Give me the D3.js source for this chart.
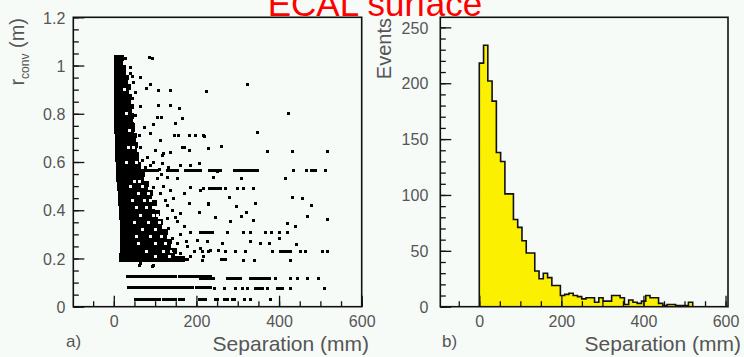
<!DOCTYPE html>
<meta charset="utf-8">
<script src="https://d3js.org/d3.v7.min.js"></script>
<style>
  body { margin: 0; background: #f7fbf8; }
  text { font-family: "Liberation Sans", Arial, sans-serif; }
</style>
<svg id="chart" width="744" height="357"></svg>
<script>
// ---- panel a) : r_conv vs separation ----
// dense core, one row per 0.02 m: [r, sepFrom, sepTo]
var coreRows = [
  [1.03, 0, 24], [1.01, 0, 22], [0.99, 0, 30], [0.97, 0, 29], [0.95, 0, 36],
  [0.93, 0, 34], [0.91, 0, 42], [0.89, 0, 38], [0.87, 0, 44], [0.85, 0, 42],
  [0.83, 0, 48], [0.81, 0, 44], [0.79, 0, 50], [0.77, 0, 47], [0.75, 0, 52],
  [0.73, 0, 50], [0.71, 2, 55], [0.69, 2, 54], [0.67, 3, 59], [0.65, 3, 57],
  [0.63, 4, 62], [0.61, 4, 60], [0.59, 5, 67], [0.57, 5, 66], [0.55, 6, 76],
  [0.53, 6, 74], [0.51, 8, 86], [0.49, 8, 84], [0.47, 9, 95], [0.45, 10, 92],
  [0.43, 10, 104], [0.41, 12, 100], [0.39, 12, 112], [0.37, 13, 108], [0.35, 14, 120],
  [0.33, 14, 116], [0.31, 15, 132], [0.29, 15, 128], [0.27, 16, 142], [0.25, 15, 138],
  [0.23, 14, 152], [0.21, 13, 148], [0.197, 12, 172]
];

// empty spots inside the core [sep, r]
var coreGaps = [
  [25, 0.9], [30, 0.8], [38, 0.73], [35, 0.66], [48, 0.66], [30, 0.6], [55, 0.6],
  [50, 0.52], [62, 0.52], [40, 0.5], [70, 0.5], [60, 0.47], [85, 0.47],
  [45, 0.44], [75, 0.44], [88, 0.44], [55, 0.41], [80, 0.41], [95, 0.41],
  [65, 0.38], [95, 0.38], [105, 0.38], [50, 0.35], [85, 0.35], [110, 0.35],
  [70, 0.32], [100, 0.32], [55, 0.29], [90, 0.29], [115, 0.29],
  [60, 0.26], [100, 0.26], [125, 0.26], [80, 0.23], [120, 0.23], [140, 0.23],
  [100, 0.21], [135, 0.21]
];

// horizontal streaks of points [r, sepFrom, sepTo]
var streaks = [
  [0.566, 40, 106], [0.566, 130, 154], [0.566, 174, 210], [0.566, 230, 259],
  [0.566, 292, 349], [0.566, 477, 489],
  [0.195, 60, 178], [0.195, 259, 271],
  [0.124, 32, 58], [0.124, 64, 112], [0.124, 118, 150], [0.124, 158, 200],
  [0.124, 208, 234], [0.119, 275, 307], [0.119, 331, 372], [0.117, 210, 243],
  [0.079, 36, 190], [0.079, 200, 234], [0.077, 343, 360], [0.077, 395, 408],
  [0.03, 53, 75], [0.03, 82, 110], [0.03, 120, 150], [0.03, 158, 170],
  [0.228, 404, 428], [0.307, 215, 240], [0.49, 230, 259]
];

// single points [sep (mm), r (m)]
var dots = [
  [85, 1.034], [93, 1.03], [45, 0.955], [65, 0.952], [89, 0.92], [79, 0.904],
  [109, 0.897], [136, 0.897], [225, 0.894], [323, 0.92], [422, 0.80],
  [107, 0.835], [136, 0.835], [159, 0.821], [105, 0.786], [115, 0.786], [167, 0.779],
  [97, 0.756], [150, 0.759], [73, 0.745], [89, 0.717], [113, 0.69], [348, 0.722], [219, 0.706],
  [147, 0.71], [156, 0.71], [182, 0.71], [198, 0.712], [217, 0.71],
  [166, 0.662], [170, 0.66], [230, 0.655], [261, 0.664], [184, 0.648], [372, 0.646],
  [432, 0.646], [518, 0.644],
  [101, 0.648], [121, 0.635], [81, 0.62], [117, 0.628], [137, 0.641], [57, 0.579],
  [133, 0.579], [162, 0.586], [206, 0.593], [89, 0.586], [117, 0.593], [186, 0.586],
  [435, 0.566], [465, 0.566], [513, 0.566],
  [250, 0.559], [242, 0.535], [309, 0.531], [416, 0.530],
  [105, 0.531], [129, 0.538], [154, 0.531], [186, 0.496], [170, 0.469], [137, 0.483],
  [113, 0.469], [210, 0.483],
  [218, 0.49], [271, 0.49], [299, 0.49], [314, 0.49], [338, 0.49],
  [280, 0.455], [230, 0.424], [342, 0.43], [432, 0.453], [457, 0.448], [478, 0.418],
  [297, 0.414], [230, 0.428], [206, 0.393], [182, 0.428], [141, 0.40], [162, 0.386],
  [125, 0.441], [97, 0.428], [97, 0.496],
  [247, 0.372], [309, 0.375], [322, 0.389], [338, 0.356], [283, 0.352], [469, 0.375],
  [517, 0.364], [420, 0.345], [440, 0.335],
  [129, 0.366], [154, 0.352], [170, 0.331], [186, 0.31], [210, 0.31], [133, 0.324],
  [275, 0.307], [314, 0.307], [331, 0.307], [368, 0.307], [382, 0.307], [400, 0.307], [419, 0.307],
  [202, 0.276], [154, 0.262], [178, 0.248], [226, 0.269], [141, 0.283], [263, 0.262],
  [331, 0.269], [376, 0.262], [354, 0.262], [400, 0.283], [443, 0.259],
  [194, 0.228], [162, 0.221], [218, 0.207], [210, 0.242], [234, 0.235], [254, 0.235],
  [214, 0.228], [230, 0.228], [271, 0.228], [295, 0.228], [319, 0.228], [384, 0.228],
  [452, 0.228], [464, 0.228], [505, 0.228], [516, 0.228],
  [214, 0.193], [314, 0.193], [341, 0.193], [428, 0.193],
  [65, 0.18], [93, 0.166], [61, 0.171], [97, 0.171],
  [376, 0.117], [392, 0.117], [428, 0.117], [445, 0.117], [469, 0.117], [496, 0.117],
  [243, 0.076], [267, 0.076], [295, 0.076], [311, 0.076], [323, 0.076], [372, 0.076],
  [428, 0.076], [509, 0.076],
  [206, 0.031], [214, 0.031], [222, 0.031], [247, 0.031], [251, 0.031], [267, 0.031],
  [275, 0.031], [287, 0.031], [291, 0.031], [315, 0.031], [331, 0.031], [380, 0.031],
  [28, 1.028], [40, 0.966], [48, 0.931], [53, 0.89], [45, 0.862], [65, 0.83], [53, 0.793],
  [45, 0.759], [61, 0.71], [65, 0.662], [57, 0.635], [69, 0.607], [77, 0.579], [48, 0.731],
  [39, 0.993], [81, 0.566],
  [120, 0.5], [145, 0.45], [130, 0.42], [150, 0.37], [160, 0.3], [175, 0.27],
  [145, 0.235], [185, 0.21], [125, 0.31], [115, 0.55], [95, 0.6], [110, 0.57]
];

// ---- panel b) : separation histogram, 50 bins from 0 to 520 mm ----
var histLow = 0;
var binWidth = 10.4;
var counts = [
  218, 234, 202, 184, 138, 130, 101, 101, 78, 71,
  59, 48, 48, 32, 25, 30, 26, 19, 19, 10,
  11, 12, 10, 9, 7, 8, 8, 4, 8, 5,
  5, 10, 10, 8, 2, 6, 4, 3, 5, 10,
  8, 8, 3, 1, 2, 2, 1, 1, 1, 4
];

var xTicksMajor = [0, 200, 400, 600];
var yTicksA = [0, 0.2, 0.4, 0.6, 0.8, 1, 1.2];
var yTicksB = [0, 50, 100, 150, 200, 250];

var svg = d3.select("#chart");
var bg = "#f7fbf8", tickColor = "#111", labelColor = "#555";

// scales
var xA = d3.scaleLinear().domain([-98, 600]).range([73.3, 361.7]);
var yA = d3.scaleLinear().domain([0, 1.2]).range([306.7, 17.3]);
var xB = d3.scaleLinear().domain([-95, 606]).range([440.3, 728]);
var yB = d3.scaleLinear().domain([0, 259]).range([306.7, 17.3]);

// ---------- panel a ----------
var gA = svg.append("g").attr("shape-rendering", "crispEdges");
gA.selectAll("rect.core").data(coreRows).enter().append("rect")
  .attr("x", d => xA(d[1]))
  .attr("width", d => xA(d[2]) - xA(d[1]))
  .attr("y", d => yA(d[0] + 0.012))
  .attr("height", d => yA(d[0] - 0.012) - yA(d[0] + 0.012))
  .attr("fill", "#000");

gA.selectAll("rect.gap").data(coreGaps).enter().append("rect")
  .attr("x", d => xA(d[0]) - 1.5)
  .attr("y", d => yA(d[1]) - 1.5)
  .attr("width", 3)
  .attr("height", 3)
  .attr("fill", bg);

gA.selectAll("rect.streak").data(streaks).enter().append("rect")
  .attr("x", d => xA(d[1]) - 1.3)
  .attr("width", d => xA(d[2]) - xA(d[1]) + 2.6)
  .attr("y", d => yA(d[0]) - 1.4)
  .attr("height", 3)
  .attr("fill", "#000");

gA.selectAll("rect.dot").data(dots).enter().append("rect")
  .attr("x", d => xA(d[0]) - 1.4)
  .attr("y", d => yA(d[1]) - 1.4)
  .attr("width", 3)
  .attr("height", 3)
  .attr("fill", "#000");

// ---------- panel b ----------
var histPts = [[histLow, 0]];
counts.forEach(function(c, i) { histPts.push([histLow + i * binWidth, c]); });
histPts.push([histLow + counts.length * binWidth, counts[counts.length - 1]]);
histPts.push([histLow + counts.length * binWidth, 0]);

var gB = svg.append("g");
gB.append("path")
  .attr("d", d3.area().curve(d3.curveStepAfter)
    .x(d => xB(d[0])).y0(yB(0)).y1(d => yB(d[1]))(histPts))
  .attr("fill", "#fbf000");
gB.append("path")
  .attr("d", d3.line().curve(d3.curveStepAfter)
    .x(d => xB(d[0])).y(d => yB(d[1]))(histPts))
  .attr("fill", "none")
  .attr("stroke", "#111")
  .attr("stroke-width", 1.6);

// ---------- axes ----------
function drawAxes(x, y, yTicks, yMinor, yPad, fmtY) {
  var h = y.range()[0];
  var left = x.range()[0];
  var g = svg.append("g");

  // x minor / major ticks (inward)
  g.append("g").attr("transform", "translate(0," + h + ")")
    .call(d3.axisBottom(x).tickValues(d3.range(-50, 601, 50)).tickSize(-5.5).tickFormat(""));
  g.append("g").attr("transform", "translate(0," + h + ")")
    .call(d3.axisBottom(x).tickValues(xTicksMajor).tickSize(-11).tickPadding(0))
    .call(a => a.selectAll("text").attr("y", 20).attr("dy", 0));

  // y minor / major ticks (inward)
  g.append("g").attr("transform", "translate(" + left + ",0)")
    .call(d3.axisLeft(y).tickValues(yMinor).tickSize(-5.5).tickFormat(""));
  g.append("g").attr("transform", "translate(" + left + ",0)")
    .call(d3.axisLeft(y).tickValues(yTicks).tickSize(-11).tickPadding(yPad).tickFormat(fmtY))
    .call(a => a.selectAll("text").attr("dy", "0.36em"));

  g.selectAll(".domain").remove();
  g.selectAll("line").attr("stroke", tickColor).attr("stroke-width", 1.3);
  g.selectAll("text").attr("fill", labelColor).style("font-size", "16px")
    .style("font-family", '"Liberation Sans", Arial, sans-serif');

  // frame
  svg.append("rect")
    .attr("x", x.range()[0]).attr("y", y.range()[1])
    .attr("width", x.range()[1] - x.range()[0])
    .attr("height", y.range()[0] - y.range()[1])
    .attr("fill", "none").attr("stroke", tickColor).attr("stroke-width", 1.6);
}

var yMinorA = d3.range(0, 1.2001, 0.05);
var yMinorB = d3.range(0, 259, 10);
drawAxes(xA, yA, yTicksA, yMinorA, 8, d3.format("~g"));
drawAxes(xB, yB, yTicksB, yMinorB, 12, d3.format("d"));

// axis titles
function label(txt, x, y, size, anchor) {
  return svg.append("text").attr("x", x).attr("y", y)
    .attr("text-anchor", anchor).attr("fill", labelColor)
    .style("font-size", size + "px").text(txt);
}
label("Separation (mm)", 369, 351, 21, "end");
label("Separation (mm)", 741, 351, 21, "end");
label("a)", 66, 347, 17, "start");
label("b)", 442, 347, 17, "start");

var yl = svg.append("text")
  .attr("transform", "translate(24,18) rotate(-90)")
  .attr("text-anchor", "end").attr("fill", labelColor)
  .style("font-size", "20px");
yl.append("tspan").text("r");
yl.append("tspan").attr("dy", 5).style("font-size", "12px").text("conv");
yl.append("tspan").attr("dy", -5).text(" (m)");

svg.append("text")
  .attr("transform", "translate(391,18) rotate(-90)")
  .attr("text-anchor", "end").attr("fill", labelColor)
  .style("font-size", "20px").text("Events");

// title
svg.append("text")
  .attr("x", 375).attr("y", 16)
  .attr("text-anchor", "middle").attr("fill", "#ff0000")
  .style("font-size", "35px").text("ECAL surface");
</script>
